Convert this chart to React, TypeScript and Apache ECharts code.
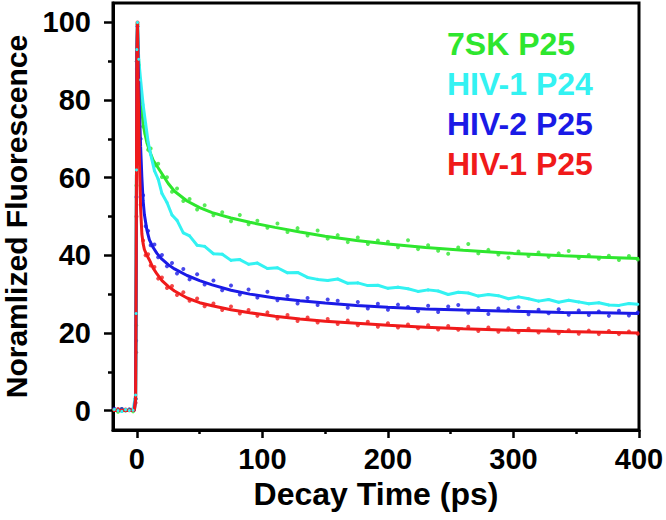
import React, { useEffect, useRef } from "react";
import * as echarts from "echarts";

// Shared time axis (ps) for the measured points
const DOT_T = [-18, -15, -12, -9, -6, -3, -1, -0.6, -0.3, 0, 0.5, 1.5, 3, 5, 7, 9, 11, 14, 17, 20, 24, 28, 32, 37, 42, 48, 54, 61, 68, 75, 82, 89, 96, 104, 112, 120, 128, 136, 144, 152, 160, 168, 176, 184, 192, 200, 208, 216, 224, 232, 240, 248, 256, 264, 272, 280, 288, 296, 304, 312, 320, 328, 336, 344, 352, 360, 368, 376, 384, 392, 399];

const GREEN_DOTS = [0.2, -0.3, 0.4, 0, 0.3, -0.2, 3, 22, 58, 90, 99.5, 89, 81.5, 73.2, 71.3, 67.2, 67.5, 63.1, 63.6, 60.2, 60.1, 56.4, 57.2, 54, 54.5, 51.8, 52.9, 50.3, 51.1, 48.8, 50.4, 48, 48.9, 47.1, 48.2, 46, 47, 45.1, 46.4, 44.3, 45.2, 43.4, 44.6, 42.9, 43.8, 43.5, 42.1, 43.9, 41.6, 42.6, 41.2, 40.4, 42, 42.9, 40.5, 41.4, 40.2, 39.4, 41, 39.8, 40.7, 39.6, 40.5, 41.1, 39.3, 40.1, 39.1, 39.9, 38.8, 39.8, 38.9];

const CYAN_DATA = [0.3, 0, -0.2, 0.2, 0, 0.1, 4, 25, 62, 93, 100, 90.5, 85.2, 78.8, 73.9, 69.2, 66, 61.8, 59.6, 55.9, 53.6, 50.4, 49, 45.8, 45, 42.6, 42.3, 40.4, 40.3, 38.7, 38.9, 37.7, 38, 36.6, 36.8, 35.5, 35.6, 34.3, 33.8, 33.5, 33.9, 32.8, 32.9, 32.2, 32.3, 31.5, 31.8, 31.4, 30.7, 31.1, 30.8, 29.9, 30.5, 30.3, 29.5, 29.9, 29.6, 28.8, 29.3, 28.8, 28.2, 28.6, 27.9, 28.4, 28, 27.5, 27.8, 27.2, 27.1, 27.6, 27.4];

const BLUE_DOTS = [0.5, 0.2, 0.4, 0.1, 0.3, 0.2, 3, 18, 55, 90, 99, 83, 70, 55.5, 47.5, 46.3, 42.6, 42.8, 39.5, 40.1, 37.2, 38, 35.3, 36.5, 33.8, 35.1, 32.5, 33.5, 31, 32.2, 29.9, 31.2, 29.1, 30.6, 28.4, 29.5, 27.6, 29, 27.2, 28.6, 28.3, 26.5, 28, 26.3, 27.5, 26, 27.3, 26.7, 25.6, 27, 25.4, 26.8, 27.2, 25.2, 26.4, 24.9, 26.3, 25.9, 26.6, 24.8, 26, 25.1, 26.1, 24.7, 25.8, 24.6, 25.5, 24.4, 25.7, 24.5, 25.3];

const RED_DOTS = [0.2, 0.4, 0, 0.3, 0.1, 0.4, 2, 15, 50, 88, 100, 76, 53, 43.8, 40, 40.3, 37.4, 37, 34, 34.3, 31.6, 32.1, 29.8, 30.5, 28.3, 28.9, 26.9, 27.6, 25.9, 26.8, 25, 25.9, 24.4, 25.3, 23.7, 24.6, 23.1, 24, 22.7, 23.6, 22.3, 23.2, 22, 22.9, 21.6, 22.5, 21.4, 22.2, 21.2, 22, 20.9, 21.8, 20.8, 21.6, 20.5, 21.4, 20.3, 21.2, 20.2, 21.1, 20.1, 20.9, 19.9, 20.7, 19.8, 20.6, 19.7, 20.5, 19.7, 20.4, 19.8];

// Fitted decay curves
const FIT_T = [-19, -2, -1, -0.5, 0, 0.5, 1, 2, 3, 4, 5, 6, 8, 10, 13, 16, 20, 25, 30, 40, 50, 60, 75, 90, 110, 130, 150, 175, 200, 230, 260, 300, 340, 370, 400];
const GREEN_FIT = [0, 0, 3, 40, 92, 100, 93, 86, 80.5, 77, 74, 72, 69, 67, 64.5, 63, 61, 58.5, 56.5, 54, 52.3, 51, 49.6, 48.5, 47.2, 46, 44.9, 43.8, 42.9, 42, 41.3, 40.5, 39.9, 39.5, 39.2];
const BLUE_FIT = [0, 0, 3, 40, 92, 100, 90, 78, 68, 60, 54, 50.5, 46.5, 44, 42, 40.5, 39, 37.6, 36.5, 34.8, 33.5, 32.4, 31, 30, 29, 28.3, 27.7, 27.1, 26.6, 26.2, 25.9, 25.6, 25.3, 25.2, 25.0];
const RED_FIT = [0, 0, 3, 40, 92, 100, 85, 65, 52, 45.5, 43, 41.5, 40, 38.8, 36.7, 35.2, 33.5, 32, 30.8, 29, 27.8, 27, 26, 25.2, 24.3, 23.6, 23, 22.5, 22, 21.5, 21.1, 20.7, 20.4, 20.2, 20.0];

const NAMES = ["7SK P25", "HIV-1 P24", "HIV-2 P25", "HIV-1 P25"];
const COLORS = ["#2ee62e", "#33f2f2", "#1a1ae6", "#f01a1a"];

const X_MAJOR = [0, 100, 200, 300, 400];
const X_MINOR = [50, 150, 250, 350];
const Y_MAJOR = [0, 20, 40, 60, 80, 100];
const Y_MINOR = [10, 30, 50, 70, 90];

const FONT = "'Liberation Sans', Arial, sans-serif";

const pair = (ts: number[], vs: number[]) => ts.map((t, i) => [t, vs[i]]);

export default function App() {
  const ref = useRef<HTMLDivElement>(null);
  useEffect(() => {
    if (!ref.current) return;
    const chart = echarts.init(ref.current, null, { renderer: "svg" });
    const dotSeries = (name: string, color: string, vals: number[]) => ({
      type: "scatter",
      name,
      data: pair(DOT_T, vals),
      symbol: "circle",
      symbolSize: 4,
      itemStyle: { color },
    });
    const fitSeries = (name: string, color: string, vals: number[]) => ({
      type: "line",
      name,
      data: pair(FIT_T, vals),
      showSymbol: false,
      smooth: false,
      lineStyle: { color, width: 3 },
      itemStyle: { color },
    });
    const axisLbl = { fontSize: 29, fontWeight: "bold", color: "#000", fontFamily: FONT };
    chart.setOption({
      animation: false,
      backgroundColor: "#fff",
      grid: {
        left: 113,
        right: 27,
        top: 3,
        bottom: 90,
        containLabel: false,
        outerBoundsMode: "none",
        show: true,
        borderColor: "#000",
        borderWidth: 3,
        backgroundColor: "transparent",
      },
      legend: {
        orient: "vertical",
        left: 437,
        top: 23,
        itemWidth: 0,
        itemHeight: 0,
        itemGap: 8,
        icon: "none",
        selectedMode: false,
        textStyle: { fontSize: 32, fontWeight: "bold", fontFamily: FONT, lineHeight: 32 },
        data: NAMES.map((n, i) => ({ name: n, textStyle: { color: COLORS[i] } })),
      },
      xAxis: [
        {
          type: "value",
          min: -19,
          max: 400,
          name: "Decay Time (ps)",
          nameLocation: "middle",
          nameGap: 44,
          nameTextStyle: { fontSize: 32, fontWeight: "bold", color: "#000", fontFamily: FONT },
          axisLine: { show: true, onZero: false, lineStyle: { color: "#000", width: 3 } },
          axisTick: { show: true, customValues: X_MAJOR, length: 8, lineStyle: { color: "#000", width: 2.5 } },
          axisLabel: { ...axisLbl, customValues: X_MAJOR, margin: 14 },
          splitLine: { show: false },
        },
        {
          type: "value",
          min: -19,
          max: 400,
          position: "bottom",
          axisLine: { show: false, onZero: false },
          axisTick: { show: true, customValues: X_MINOR, length: 4, lineStyle: { color: "#000", width: 2.5 } },
          axisLabel: { show: false },
          splitLine: { show: false },
        },
      ],
      yAxis: [
        {
          type: "value",
          min: -5,
          max: 105,
          name: "Noramlized Fluorescence",
          nameLocation: "middle",
          nameGap: 80,
          nameTextStyle: { fontSize: 30, lineHeight: 30, fontWeight: "bold", color: "#000", fontFamily: FONT },
          axisLine: { show: true, onZero: false, lineStyle: { color: "#000", width: 3 } },
          axisTick: { show: true, customValues: Y_MAJOR, length: 9, lineStyle: { color: "#000", width: 2.5 } },
          axisLabel: { ...axisLbl, customValues: Y_MAJOR, margin: 22 },
          splitLine: { show: false },
        },
        {
          type: "value",
          min: -5,
          max: 105,
          position: "left",
          axisLine: { show: false, onZero: false },
          axisTick: { show: true, customValues: Y_MINOR, length: 5, lineStyle: { color: "#000", width: 2.5 } },
          axisLabel: { show: false },
          splitLine: { show: false },
        },
      ],
      series: [
        dotSeries(NAMES[0], COLORS[0], GREEN_DOTS),
        fitSeries(NAMES[0], COLORS[0], GREEN_FIT),
        {
          type: "line",
          name: NAMES[1],
          data: pair(DOT_T, CYAN_DATA),
          showSymbol: true,
          symbol: "circle",
          symbolSize: 3,
          lineStyle: { color: COLORS[1], width: 3 },
          itemStyle: { color: COLORS[1] },
        },
        dotSeries(NAMES[2], COLORS[2], BLUE_DOTS),
        fitSeries(NAMES[2], COLORS[2], BLUE_FIT),
        dotSeries(NAMES[3], COLORS[3], RED_DOTS),
        fitSeries(NAMES[3], COLORS[3], RED_FIT),
      ],
    });
    return () => chart.dispose();
  }, []);
  return (
    <div
      ref={ref}
      style={{ position: "fixed", left: 0, top: 0, width: 666, height: 520 }}
    />
  );
}
